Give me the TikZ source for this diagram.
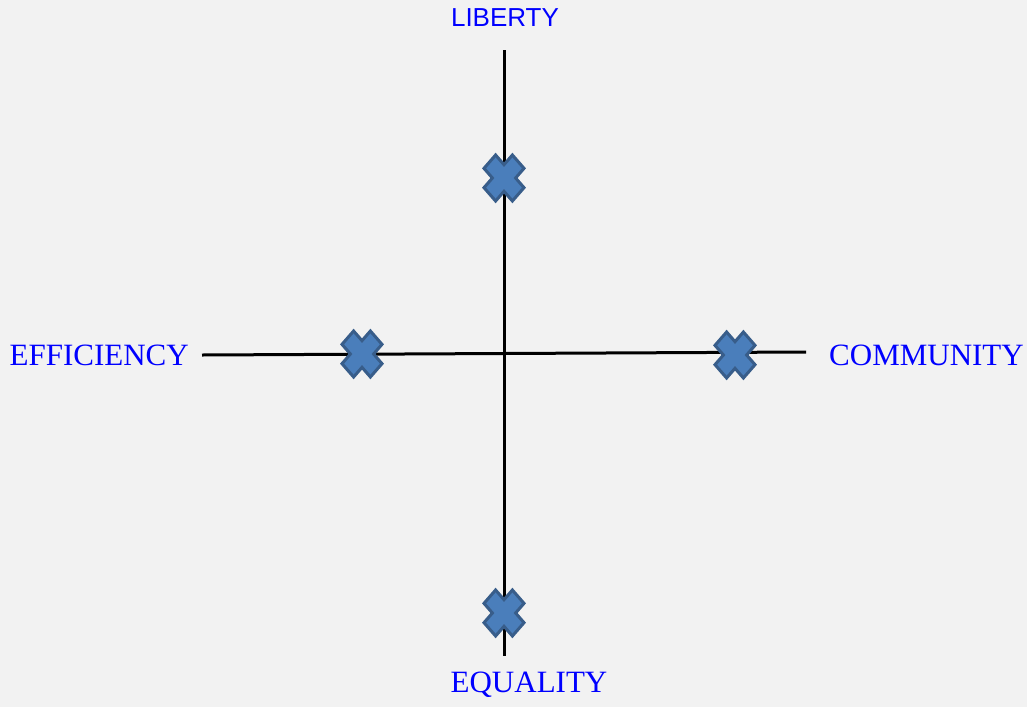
\documentclass[tikz,border=0pt]{standalone}
\usepackage{fontspec}
\setmainfont{Liberation Serif}
\newfontfamily\labelsans{Liberation Sans}
\usetikzlibrary{positioning}
\definecolor{bgGrey}{HTML}{F2F2F2}
\definecolor{markFill}{RGB}{74,126,187}
\definecolor{markLine}{RGB}{56,93,138}

\begin{document}
\begin{tikzpicture}[x=1pt, y=-1pt,
    axis/.style={line width=3pt, black},
    serifLabel/.style={text=blue, font=\fontsize{31}{34}\selectfont, inner sep=0pt},
    sansLabel/.style={text=blue, font=\labelsans\fontsize{26}{30}\selectfont, inner sep=0pt},
    cross/.pic={
      \def\s{0.58}
      \filldraw[fill=markFill, draw=markLine, line width=3pt, line join=miter, xscale=20, yscale=23]
        (0,-\s) -- (-1+\s,-1) -- (-1,-1+\s) -- (-\s,0) -- (-1,1-\s) -- (-1+\s,1)
        -- (0,\s) -- (1-\s,1) -- (1,1-\s) -- (\s,0) -- (1,-1+\s) -- (1-\s,-1) -- cycle;
    }
  ]
    \fill[bgGrey] (0,0) rectangle (1027,707);
    \useasboundingbox (0,0) rectangle (1027,707);

    % axes
    \coordinate (top) at (504,50);
    \coordinate (bottom) at (504,656);
    \coordinate (left) at (202,355);
    \coordinate (right) at (806,352);
    \draw[axis] (top) -- (bottom);
    \draw[axis] (left) -- (right);

    % labels
    \node[sansLabel] (liberty) at (505,18) {LIBERTY};
    \node[serifLabel] (equality) at (529,685) {EQUALITY};
    \node[serifLabel, anchor=east] (efficiency) at (189,355) {EFFICIENCY};
    \node[serifLabel, anchor=west] (community) at (829,355) {COMMUNITY};

    % marks
    \pic at (504,178) {cross};
    \pic at (362,354) {cross};
    \pic at (735,355) {cross};
    \pic at (504,613) {cross};
  \end{tikzpicture}
\end{document}
